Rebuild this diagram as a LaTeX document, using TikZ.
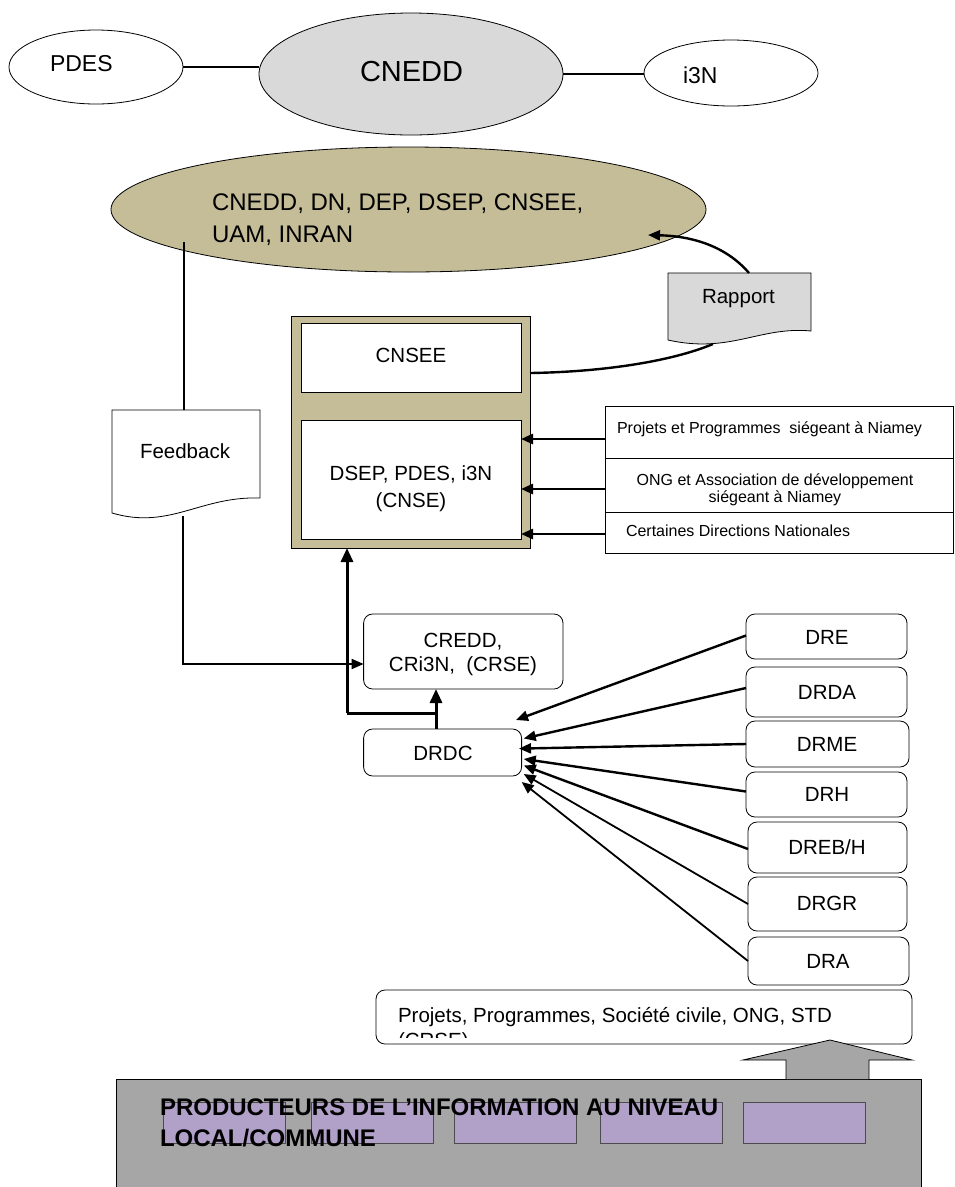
\documentclass[tikz,border=0pt]{standalone}
\usepackage{fontspec}
\setmainfont{Liberation Sans}
\usetikzlibrary{shapes.geometric,arrows.meta}
\definecolor{beige}{HTML}{C4BD97}
\definecolor{lgray}{HTML}{D9D9D9}
\definecolor{mgray}{HTML}{A6A6A6}
\definecolor{lilac}{HTML}{B1A0C7}
\begin{document}
\begin{tikzpicture}[x=1pt,y=-1pt,
  every node/.style={inner sep=0pt, outer sep=0pt},
  ell/.style={draw, ellipse, line width=0.8pt},
  sqbox/.style={draw, rectangle, line width=0.8pt},
  rbox/.style={draw, rectangle, rounded corners=9pt, line width=0.8pt, fill=white},
  conn/.style={line width=2pt},
  arr/.style={line width=2.4pt, -{Triangle[length=12pt,width=10pt]}},
  bigarr/.style={line width=3pt, -{Triangle[length=14pt,width=12pt]}},
  tA/.style={font=\fontsize{16}{18}\selectfont},
  tB/.style={font=\fontsize{20.5}{24}\selectfont},
  tC/.style={font=\fontsize{23}{27}\selectfont},
  tD/.style={font=\fontsize{24}{32}\selectfont},
  tE/.style={font=\fontsize{29}{33}\selectfont},
  tF/.style={font=\fontsize{24}{31}\selectfont\bfseries},
  lilacbox/.style={draw=black!70, line width=0.8pt, fill=lilac, minimum width=122pt, minimum height=41pt}
]
\useasboundingbox (0,0) rectangle (954,1187);

% top ellipses
\node[ell, minimum width=174pt, minimum height=74pt] (pdes) at (96,67) {};
\node[tC, anchor=base west] (pdest) at (50,71) {PDES};
\node[ell, fill=lgray, minimum width=304pt, minimum height=122pt] (cnedd) at (411,74) {};
\node[tE, anchor=base west] (cneddt) at (360,81) {CNEDD};
\node[ell, minimum width=174pt, minimum height=66pt] (i3n) at (731,73) {};
\node[tC, anchor=base west] (i3nt) at (683,83) {i3N};
\draw[conn] (pdes.east) -- (pdes.east -| cnedd.west);
\draw[conn] (cnedd.east) -- (cnedd.east -| i3n.west);

% big ellipse
\node[ell, fill=beige, minimum width=595pt, minimum height=125pt] (cnmain) at (408.5,209.5) {};
\node[tD, anchor=base west] (cnl1) at (212,210) {CNEDD, DN, DEP, DSEP, CNSEE,};
\node[tD, anchor=base west] (cnl2) at (212,242) {UAM, INRAN};

% CNSEE frame
\node[sqbox, fill=beige, minimum width=239pt, minimum height=232pt] (frame) at (410.5,432) {};
\node[sqbox, fill=white, minimum width=220pt, minimum height=69pt] (cnsee) at (411,358) {};
\node[tB] (cnseet) at (411,355) {CNSEE};
\node[sqbox, fill=white, minimum width=220pt, minimum height=118.5pt] (dsep) at (411,479.75) {};
\node[tB, anchor=base] (dsept1) at (411,480.5) {DSEP, PDES, i3N};
\node[tB, anchor=base] (dsept2) at (411,507.5) {(CNSE)};

% side list
\node[sqbox, minimum width=348pt, minimum height=52pt] (pp) at (779,432) {};
\node[sqbox, minimum width=348pt, minimum height=54pt] (ong) at (779,485) {};
\node[sqbox, minimum width=348pt, minimum height=41pt] (cdn) at (779,532.5) {};
\node[tA, anchor=base west] (ppt) at (617,433.3) {Projets et Programmes \ siégeant à Niamey};
\node[tA, anchor=base] (ongt1) at (775,485) {ONG et Association de développement};
\node[tA, anchor=base] (ongt2) at (775,502) {siégeant à Niamey};
\node[tA, anchor=base west] (cdnt) at (626,536.7) {Certaines Directions Nationales};
\draw[arr] ([yshift=-7pt]pp.west) -- ([yshift=-7pt]pp.west -| dsep.east);
\draw[arr] ([yshift=-4pt]ong.west) -- ([yshift=-4pt]ong.west -| dsep.east);
\draw[arr] ([yshift=-1.5pt]cdn.west) -- ([yshift=-1.5pt]cdn.west -| dsep.east);

% Rapport document
\draw[line width=0.8pt, fill=lgray] (668,273) -- (811,273) -- (811,331)
  .. controls (760,326) and (730,354) .. (668,340) -- cycle;
\node[tB, anchor=base west] (rapport) at (702,303) {Rapport};
\coordinate (raptop) at (749,273);
\coordinate (rapbot) at (713,344);
\coordinate (raptip) at (648,235);
\coordinate (frameout) at (530,373);
\draw[line width=2.4pt] (frameout) .. controls (600,372) and (670,362) .. (rapbot);
\draw[arr] (raptop) .. controls (725,245) and (690,236) .. (raptip);

% Feedback document
\draw[line width=0.8pt, fill=white] (112,410) -- (260,410) -- (260,498)
  .. controls (200,496) and (170,530) .. (112,513) -- cycle;
\node[tB, anchor=base west] (feedback) at (140,458) {Feedback};
\coordinate (fbin) at (184,242);
\coordinate (fbtop) at (184,410);
\coordinate (fbbot) at (183,516);
\coordinate (fbcorner) at (183,664);
\draw[line width=1.6pt] (fbin) -- (fbtop);

% CREDD and DRDC
\node[rbox, minimum width=199.4pt, minimum height=75pt] (credd) at (463.3,651.5) {};
\node[tB, anchor=base] (creddt1) at (463,647.5) {CREDD,};
\node[tB, anchor=base] (creddt2) at (463,671.5) {CRi3N, \ (CRSE)};
\node[rbox, minimum width=158pt, minimum height=47pt] (drdc) at (442.6,752.5) {};
\node[tB] (drdct) at (443,753) {DRDC};
\draw[line width=2pt, -{Triangle[length=12pt,width=10pt]}] (fbbot) -- (fbcorner) -- (fbcorner -| credd.west);

\coordinate (jn) at (436,713);
\coordinate (jw) at (347,713);
\draw[bigarr] (jn |- drdc.north) -- (jn |- credd.south);
\draw[line width=3pt] (jn) -- (jw);
\draw[bigarr] (jw) -- (jw |- frame.south);

% regional boxes
\node[rbox, minimum width=161pt, minimum height=45pt] (dre) at (826.5,636.5) {};
\node[tB] at (827,637) {DRE};
\node[rbox, minimum width=161pt, minimum height=50pt] (drda) at (826.5,692) {};
\node[tB] at (827,692) {DRDA};
\node[rbox, minimum width=163pt, minimum height=46pt] (drme) at (827.5,744) {};
\node[tB] at (827,744) {DRME};
\node[rbox, minimum width=161pt, minimum height=45pt] (drh) at (826.5,794.5) {};
\node[tB] at (827,794) {DRH};
\node[rbox, minimum width=159pt, minimum height=51pt] (dreb) at (827.5,847.5) {};
\node[tB] at (827,847) {DREB/H};
\node[rbox, minimum width=159pt, minimum height=54pt] (drgr) at (827.5,904) {};
\node[tB] at (827,903) {DRGR};
\node[rbox, minimum width=161pt, minimum height=48pt] (dra) at (828.5,961) {};
\node[tB] at (828,961) {DRA};

\coordinate (t1) at (516,720);
\coordinate (t2) at (523.7,738.5);
\coordinate (t3) at (519,748.6);
\coordinate (t4) at (523.7,759);
\coordinate (t5) at (523.7,765.5);
\coordinate (t6) at (523.7,774);
\coordinate (t7) at (521.7,782);
\draw[arr] ([yshift=1pt]dre.west) -- (t1);
\draw[arr] ([yshift=4pt]drda.west) -- (t2);
\draw[arr] (drme.west) -- (t3);
\draw[arr] ([yshift=3pt]drh.west) -- (t4);
\draw[arr] ([yshift=-1.5pt]dreb.west) -- (t5);
\draw[line width=1.8pt, -{Triangle[length=12pt,width=10pt]}] (drgr.west) -- (t6);
\draw[line width=1.8pt, -{Triangle[length=12pt,width=10pt]}] (dra.west) -- (t7);

% Projets box
\node[rbox, minimum width=536pt, minimum height=54pt] (proj) at (644,1017) {};
\begin{scope}
  \clip (376,990) rectangle (912,1037);
  \node[tB, anchor=base west] (projt1) at (398,1022) {Projets, Programmes, Société civile, ONG, STD};
  \node[tB, anchor=base west] (projt2) at (398,1047) {(CRSE)};
\end{scope}

% producers block
\node[sqbox, fill=mgray, minimum width=805pt, minimum height=112pt] (prod) at (518.5,1135) {};
\draw[line width=0.8pt, fill=mgray] (786,1079) -- (786,1060) -- (743,1060) -- (830,1040)
  -- (912,1060) -- (869,1060) -- (869,1079);
\node[lilacbox] (p1) at (224,1122.5) {};
\node[lilacbox] (p2) at (372,1122.5) {};
\node[lilacbox] (p3) at (515,1122.5) {};
\node[lilacbox] (p4) at (661,1122.5) {};
\node[lilacbox] (p5) at (804,1122.5) {};
\node[tF, anchor=base west] (prodt1) at (160,1115) {PRODUCTEURS DE L’INFORMATION AU NIVEAU};
\node[tF, anchor=base west] (prodt2) at (160,1146) {LOCAL/COMMUNE};
\end{tikzpicture}
\end{document}
